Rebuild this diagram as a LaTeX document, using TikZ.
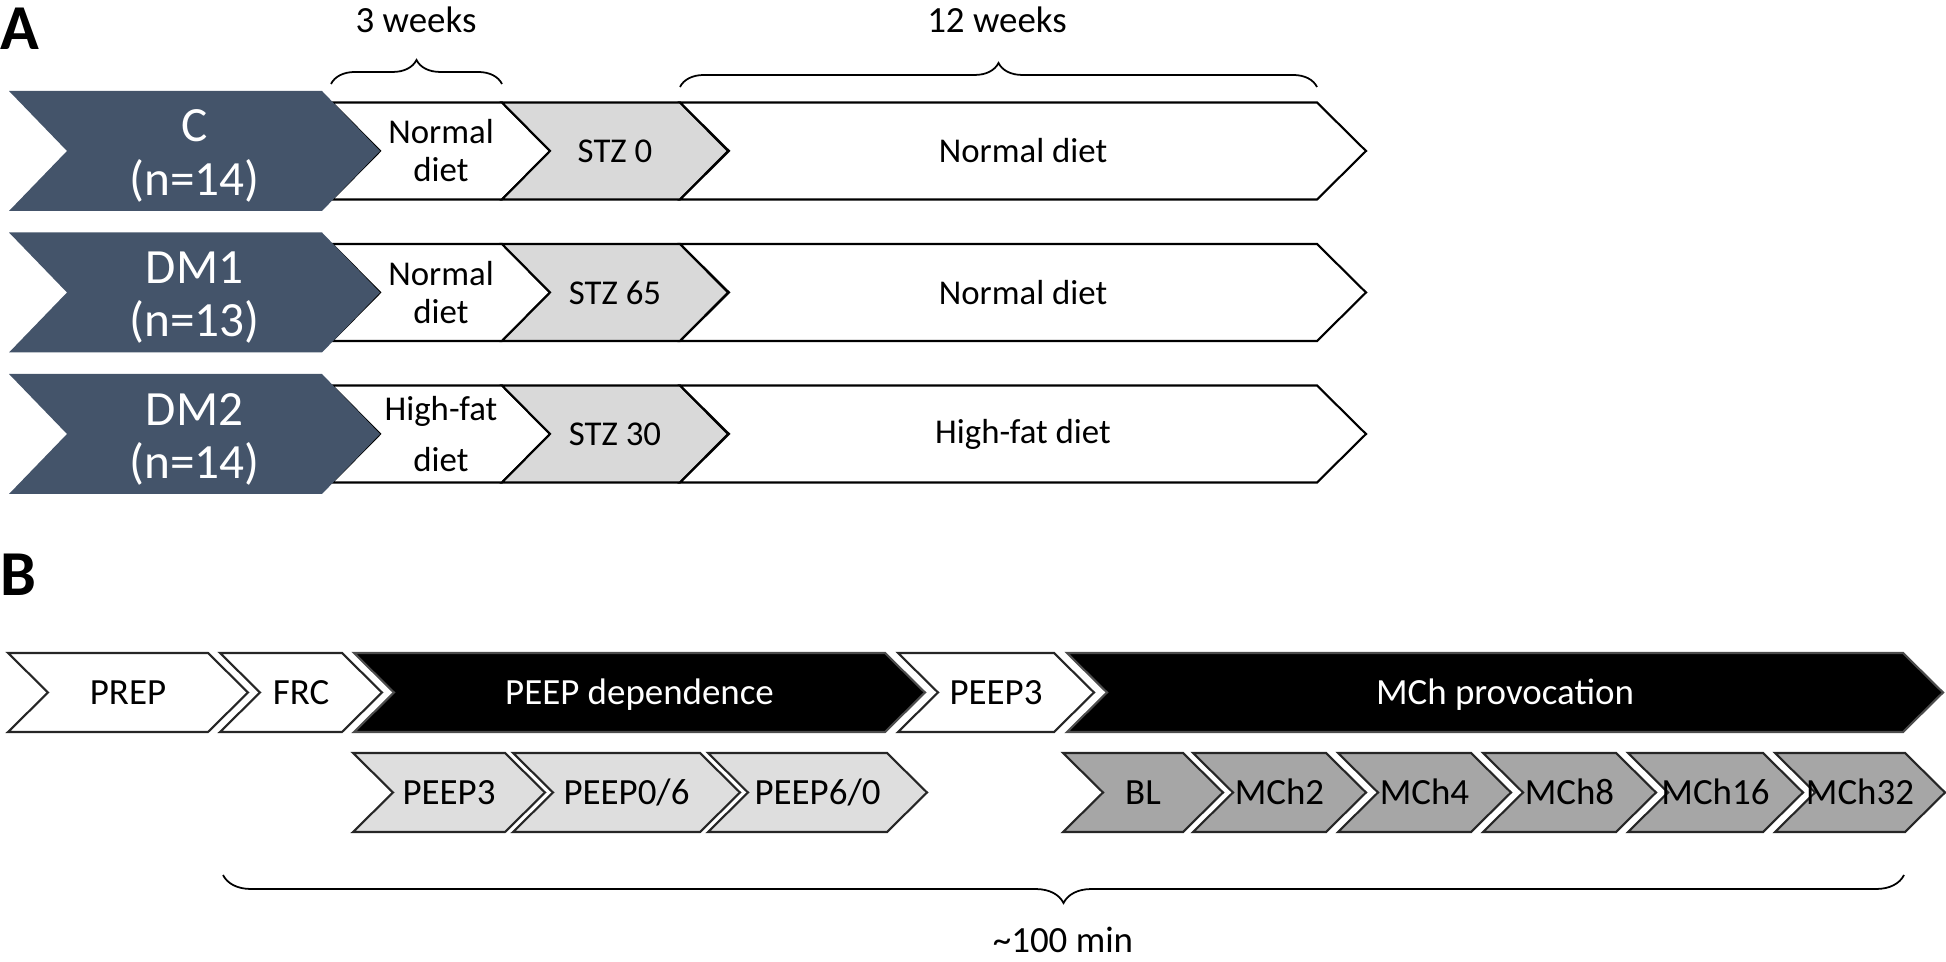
\documentclass[tikz,border=0pt]{standalone}
\usepackage{fontspec}
\setmainfont{Carlito}
\usetikzlibrary{decorations.pathreplacing}
\definecolor{slate}{HTML}{44546A}
\definecolor{stzgray}{HTML}{D9D9D9}
\definecolor{peepgray}{HTML}{DEDEDE}
\definecolor{mchgray}{HTML}{A6A6A6}
% chevron: style, name, left x, right x, mid y, half height, depth, text
\newcommand{\chev}[8]{%
  \path[#1] (#3,#5-#6) -- (#4,#5-#6) -- (#4+#7,#5) -- (#4,#5+#6)
            -- (#3,#5+#6) -- (#3+#7,#5) -- cycle;
  \node[#1txt] (#2) at ({(#3+#4+#7)/2},#5) {#8};
}
\tikzset{
    grp/.style={fill=slate},
    grptxt/.style={text=white, align=center, font=\fontsize{14}{15.1}\selectfont,
                   yshift=-0.05cm},
    diet/.style={draw=black, fill=white, line width=0.6pt},
    diettxt/.style={align=center, font=\fontsize{9.9}{10.8}\selectfont},
    stz/.style={diet, fill=stzgray},
    stztxt/.style={diettxt},
    phase/.style={draw=black!85, fill=white, line width=0.6pt},
    phasetxt/.style={font=\fontsize{10.5}{12}\selectfont, text height=6.8pt, text depth=0pt},
    block/.style={phase, draw=black!70, fill=black},
    blocktxt/.style={phasetxt, text=white},
    peep/.style={phase, fill=peepgray},
    peeptxt/.style={phasetxt},
    mch/.style={phase, fill=mchgray},
    mchtxt/.style={phasetxt},
    brc/.style={decorate, decoration={brace, amplitude=#1}, line width=0.5pt},
    wk/.style={font=\fontsize{10.5}{12}\selectfont, anchor=base},
    panel/.style={font=\fontsize{18.2}{20}\selectfont\bfseries, anchor=north west, inner sep=0pt},
}
\begin{document}
\begin{tikzpicture}[x=0.01cm, y=-0.01cm]
    \useasboundingbox (0,0) rectangle (1946,962);

    % A: groups
    \node[panel] (pa) at (0,7) {A};
    \chev{diet}{d1}{332}{502}{151}{48.5}{48}{Normal\\diet}
    \chev{stz}{s1}{502}{680}{151}{48.5}{48}{STZ 0}
    \chev{diet}{n1}{680}{1317}{151}{48.5}{49}{Normal diet}
    \chev{grp}{g1}{9}{322}{151}{60}{58}{C\\(n=14)}

    \chev{diet}{d2}{332}{502}{292.5}{48.5}{48}{Normal\\diet}
    \chev{stz}{s2}{502}{680}{292.5}{48.5}{48}{STZ 65}
    \chev{diet}{n2}{680}{1317}{292.5}{48.5}{49}{Normal diet}
    \chev{grp}{g2}{9}{322}{292.5}{60}{58}{DM1\\(n=13)}

    \chev{diet}{d3}{332}{502}{434}{48.5}{48}{High-fat\\[3.7pt]diet}
    \chev{stz}{s3}{502}{680}{434}{48.5}{48}{STZ 30}
    \chev{diet}{n3}{680}{1317}{434}{48.5}{49}{High-fat diet}
    \chev{grp}{g3}{9}{322}{434}{60}{58}{DM2\\(n=14)}

    \draw[brc=0.24cm] (331,84) -- (502,84);
    \node[wk] (w3) at (416,33) {3 weeks};
    \draw[brc=0.24cm] (680,87) -- (1317,87);
    \node[wk] (w12) at (997,33) {12 weeks};

    % B: protocol
    \node[panel] (pb) at (0,553) {B};
    \chev{phase}{prep}{8}{208}{692.5}{39.5}{40}{PREP}
    \chev{phase}{frc}{220}{342}{692.5}{39.5}{40}{FRC}
    \chev{block}{pdep}{354}{885}{692.5}{39.5}{40}{PEEP dependence}
    \chev{phase}{pthree}{898}{1054}{692.5}{39.5}{40}{PEEP3}
    \chev{block}{mprov}{1067}{1903}{692.5}{39.5}{40}{MCh provocation}

    \chev{peep}{sthree}{353}{505}{792.5}{39.5}{40}{PEEP3}
    \chev{peep}{szs}{513}{700}{792.5}{39.5}{40}{PEEP0/6}
    \chev{peep}{ssz}{708}{887}{792.5}{39.5}{40}{PEEP6/0}
    \chev{mch}{bl}{1063}{1183}{792.5}{39.5}{40}{BL}
    \chev{mch}{m2}{1193}{1326}{792.5}{39.5}{40}{MCh2}
    \chev{mch}{m4}{1338}{1471}{792.5}{39.5}{40}{MCh4}
    \chev{mch}{m8}{1483}{1616}{792.5}{39.5}{40}{MCh8}
    \chev{mch}{m16}{1628}{1763}{792.5}{39.5}{40}{MCh16}
    \chev{mch}{m32}{1775}{1905}{792.5}{39.5}{40}{MCh32}

    \draw[brc=0.28cm] (1904,875) -- (223,875);
    \node[wk] (tot) at (1063,953) {\textasciitilde100 min};
\end{tikzpicture}
\end{document}
